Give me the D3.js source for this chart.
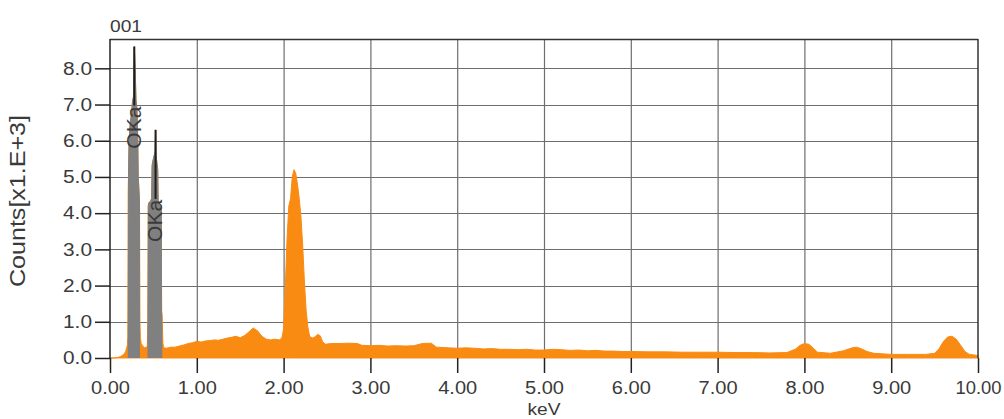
<!DOCTYPE html>
<html>
<head>
<meta charset="utf-8">
<script src="https://cdn.jsdelivr.net/npm/d3@7"></script>
<style>
  html, body { margin: 0; padding: 0; background: #ffffff; }
  svg { display: block; }
  text { font-family: "Liberation Sans", Arial, sans-serif; fill: #3a3a3a; }
</style>
</head>
<body>
<svg id="chart" width="1004" height="419"></svg>
<script>
// ---------------- data (counts in units of 1.E+3) ----------------
const energies = [
  0.00, 0.05, 0.10, 0.12, 0.14, 0.16, 0.18, 0.20, 0.205, 0.21,
  0.22, 0.23, 0.24, 0.25, 0.26, 0.27, 0.28, 0.29, 0.30, 0.31,
  0.32, 0.325, 0.33, 0.34, 0.345, 0.35, 0.36, 0.38, 0.40, 0.42,
  0.43, 0.435, 0.44, 0.45, 0.46, 0.47, 0.48, 0.485, 0.49, 0.50,
  0.51, 0.52, 0.525, 0.53, 0.54, 0.55, 0.555, 0.57, 0.59, 0.595,
  0.60, 0.61, 0.62, 0.65, 0.70, 0.75, 0.80, 0.85,
  0.90, 0.95, 1.00, 1.05, 1.10, 1.15, 1.20, 1.25, 1.30, 1.35,
  1.40, 1.45, 1.50, 1.55, 1.60, 1.65, 1.70, 1.75, 1.80, 1.85,
  1.90, 1.95, 1.98, 2.00, 2.02, 2.04, 2.06, 2.08, 2.10, 2.12,
  2.14, 2.16, 2.18, 2.20, 2.22, 2.24, 2.26, 2.28, 2.30, 2.33,
  2.36, 2.39, 2.42, 2.45, 2.48, 2.55, 2.65, 2.75, 2.85, 2.90,
  3.00, 3.10, 3.20, 3.30, 3.40, 3.50, 3.60, 3.70, 3.76, 3.90,
  4.00, 4.10, 4.20, 4.30, 4.40, 4.50, 4.60, 4.70, 4.80, 4.90,
  5.00, 5.10, 5.20, 5.30, 5.40, 5.50, 5.60, 5.70, 5.80, 5.90,
  6.00, 6.20, 6.40, 6.60, 6.80, 7.00, 7.20, 7.40, 7.60, 7.80,
  7.90, 7.95, 8.00, 8.05, 8.10, 8.15, 8.30, 8.45, 8.55, 8.60,
  8.65, 8.72, 8.80, 9.00, 9.20, 9.40, 9.50, 9.55, 9.60, 9.65,
  9.70, 9.75, 9.80, 9.85, 9.90, 10.00
];
const counts = [
  0.00, 0.00, 0.02, 0.04, 0.07, 0.10, 0.18, 0.35, 0.60, 4.60,
  6.00, 6.40, 6.60, 6.80, 7.10, 7.20, 8.60, 7.95, 7.10, 6.90,
  6.00, 5.00, 4.80, 4.30, 1.00, 0.55, 0.40, 0.32, 0.28, 0.30,
  0.33, 1.00, 4.20, 4.30, 4.30, 4.35, 4.40, 5.30, 5.40, 5.50,
  5.60, 5.70, 6.30, 5.60, 5.40, 5.20, 4.30, 4.25, 4.20, 1.30,
  1.20, 0.40, 0.28, 0.27, 0.30, 0.30, 0.33, 0.36,
  0.40, 0.42, 0.46, 0.44, 0.47, 0.48, 0.50, 0.49, 0.52, 0.55,
  0.57, 0.60, 0.56, 0.62, 0.72, 0.83, 0.75, 0.60, 0.52, 0.50,
  0.52, 0.50, 0.55, 0.80, 2.00, 3.30, 4.20, 4.40, 5.00, 5.20,
  5.10, 4.80, 4.40, 3.90, 3.10, 2.10, 1.30, 0.85, 0.60, 0.55,
  0.58, 0.65, 0.62, 0.45, 0.38, 0.40, 0.40, 0.41, 0.40, 0.35,
  0.34, 0.35, 0.33, 0.34, 0.33, 0.34, 0.40, 0.41, 0.30, 0.28,
  0.27, 0.28, 0.27, 0.25, 0.26, 0.24, 0.24, 0.23, 0.24, 0.22,
  0.22, 0.24, 0.23, 0.21, 0.22, 0.20, 0.21, 0.19, 0.19, 0.18,
  0.18, 0.17, 0.17, 0.16, 0.16, 0.16, 0.15, 0.15, 0.14, 0.15,
  0.25, 0.35, 0.40, 0.38, 0.28, 0.16, 0.13, 0.20, 0.28, 0.30,
  0.26, 0.18, 0.13, 0.10, 0.10, 0.10, 0.13, 0.25, 0.45, 0.58,
  0.60, 0.52, 0.35, 0.18, 0.10, 0.07
];

// identified element markers (OKa), gray windows and peak tops
const markerLabels   = ["OKa", "OKa"];
const markerEnergies = [0.28, 0.525];
const markerTops     = [8.6, 6.3];
const markerWindowLo = [0.205, 0.432];
const markerWindowHi = [0.346, 0.602];

const xTicks = [0, 1, 2, 3, 4, 5, 6, 7, 8, 9, 10];
const yTicks = [0, 1, 2, 3, 4, 5, 6, 7, 8];
const xTickLabels = ["0.00","1.00","2.00","3.00","4.00","5.00","6.00","7.00","8.00","9.00","10.00"];
const yTickLabels = ["0.0","1.0","2.0","3.0","4.0","5.0","6.0","7.0","8.0"];

const chartTitle = "001";
const xTitle = "keV";
const yTitle = "Counts[x1.E+3]";

// ---------------- layout ----------------
const plotLeft = 110, plotRight = 978, plotTop = 39, plotBottom = 358;
const svg = d3.select("#chart");

const x = d3.scaleLinear().domain([0, 10]).range([plotLeft, plotRight]);
const y = d3.scaleLinear().domain([0, 8.81]).range([plotBottom, plotTop]);

const spectrum = energies.map((e, i) => ({ e: e, c: counts[i] }));

// grid
const grid = svg.append("g");
grid.selectAll("line.v").data(xTicks.slice(1, -1)).enter().append("line")
  .attr("x1", d => x(d) + 0.5).attr("x2", d => x(d) + 0.5)
  .attr("y1", plotTop).attr("y2", plotBottom)
  .attr("stroke", "#6e6e6e").attr("stroke-width", 1.2);
grid.selectAll("line.h").data(yTicks.slice(1)).enter().append("line")
  .attr("x1", plotLeft).attr("x2", plotRight)
  .attr("y1", d => Math.round(y(d)) + 0.5).attr("y2", d => Math.round(y(d)) + 0.5)
  .attr("stroke", "#6e6e6e").attr("stroke-width", 1.2);

// spectrum area
const area = d3.area()
  .x(d => x(d.e))
  .y0(y(0))
  .y1(d => y(d.c));

svg.append("path")
  .datum(spectrum)
  .attr("d", area)
  .attr("fill", "#f98b12")
  .attr("stroke", "#f98b12")
  .attr("stroke-width", 1);

// gray windows for identified peaks
const defs = svg.append("defs");
markerLabels.forEach((lab, i) => {
  defs.append("clipPath").attr("id", "win" + i)
    .append("rect")
    .attr("x", x(markerWindowLo[i])).attr("width", x(markerWindowHi[i]) - x(markerWindowLo[i]))
    .attr("y", plotTop).attr("height", plotBottom - plotTop);
  svg.append("path")
    .datum(spectrum)
    .attr("d", area)
    .attr("clip-path", "url(#win" + i + ")")
    .attr("fill", "#808080")
    .attr("stroke", "#808080")
    .attr("stroke-width", 1);
});

// frame
svg.append("line").attr("x1", plotLeft).attr("x2", plotRight).attr("y1", plotTop + 0.5).attr("y2", plotTop + 0.5)
  .attr("stroke", "#333").attr("stroke-width", 1.5);
svg.append("line").attr("x1", plotRight).attr("x2", plotRight).attr("y1", plotTop).attr("y2", plotBottom)
  .attr("stroke", "#333").attr("stroke-width", 1.5);
svg.append("line").attr("x1", plotLeft).attr("x2", plotLeft).attr("y1", plotTop).attr("y2", plotBottom)
  .attr("stroke", "#222").attr("stroke-width", 1.5);

// axes
const yAxis = d3.axisLeft(y).tickValues(yTicks)
  .tickFormat((d, i) => yTickLabels[i]).tickSize(15).tickSizeOuter(0).tickPadding(3);
const gy = svg.append("g").attr("transform", `translate(${plotLeft},0)`).call(yAxis);
gy.select(".domain").remove();
gy.selectAll(".tick line").attr("stroke", "#222").attr("stroke-width", 1.5);
gy.selectAll(".tick text").style("font-size", "18px").attr("fill", "#3a3a3a")
  .attr("textLength", 29).attr("lengthAdjust", "spacingAndGlyphs");

const xAxis = d3.axisBottom(x).tickValues(xTicks)
  .tickFormat((d, i) => xTickLabels[i]).tickSize(15).tickSizeOuter(0).tickPadding(8);
const gx = svg.append("g").attr("transform", `translate(0,${plotBottom})`).call(xAxis);
gx.select(".domain").remove();
gx.selectAll(".tick line").attr("stroke", "#222").attr("stroke-width", 1.5);
gx.selectAll(".tick text").style("font-size", "18px").attr("fill", "#3a3a3a")
  .attr("textLength", (d, i) => xTickLabels[i].length === 5 ? 46 : 39)
  .attr("lengthAdjust", "spacingAndGlyphs");

// marker lines and labels
const labelTopOffset = [60, 70];
markerLabels.forEach((lab, i) => {
  const mx = x(markerEnergies[i]);
  const yTop = y(markerTops[i]);
  const yLab = yTop + labelTopOffset[i];
  svg.append("line")
    .attr("x1", mx).attr("x2", mx).attr("y1", yTop).attr("y2", yLab - 1)
    .attr("stroke", "#1e1e1e").attr("stroke-width", 2);
  svg.append("text")
    .attr("transform", `translate(${mx - 1},${yLab}) rotate(-90)`)
    .attr("text-anchor", "end")
    .attr("dominant-baseline", "central")
    .style("font-size", "21px")
    .attr("fill", "#222")
    .text(lab);
});

// titles
svg.append("text").attr("x", plotLeft).attr("y", 32)
  .style("font-size", "16px")
  .attr("textLength", 32).attr("lengthAdjust", "spacingAndGlyphs")
  .text(chartTitle);

svg.append("text").attr("x", x(5)).attr("y", 415)
  .attr("text-anchor", "middle")
  .style("font-size", "16px")
  .attr("textLength", 33).attr("lengthAdjust", "spacingAndGlyphs")
  .text(xTitle);

svg.append("text")
  .attr("transform", `translate(17,201) rotate(-90)`)
  .attr("text-anchor", "middle")
  .attr("dominant-baseline", "central")
  .style("font-size", "22px")
  .attr("textLength", 172).attr("lengthAdjust", "spacingAndGlyphs")
  .text(yTitle);
</script>
</body>
</html>
